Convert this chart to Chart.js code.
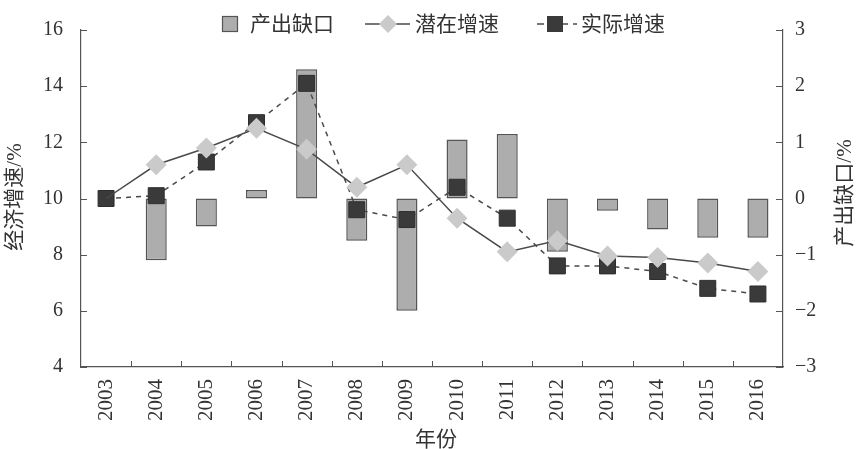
<!DOCTYPE html>
<html><head><meta charset="utf-8">
<script src="https://cdn.jsdelivr.net/npm/chart.js@4/dist/chart.umd.min.js"></script>
<style>html,body{margin:0;padding:0;background:#fff}#wrap{width:856px;height:449px}</style>
</head><body><div id="wrap"><canvas id="c" width="856" height="449"></canvas></div>
<script>
const years = ['2003','2004','2005','2006','2007','2008','2009','2010','2011','2012','2013','2014','2015','2016'];
const outputGap = [null,-1.1,-0.5,0.15,2.3,-0.75,-2.0,1.05,1.15,-0.95,-0.22,-0.55,-0.7,-0.7];
const potentialGrowth = [10.0,11.2,11.8,12.5,11.75,10.4,11.2,9.3,8.1,8.5,7.95,7.9,7.7,7.4];
const actualGrowth = [10.0,10.1,11.3,12.7,14.1,9.6,9.25,10.4,9.3,7.6,7.6,7.4,6.8,6.6];
const leftTicks = [4,6,8,10,12,14,16];
const rightTicks = [-3,-2,-1,0,1,2,3];
const labels = {gap:'产出缺口', potential:'潜在增速', actual:'实际增速', left:'经济增速/%', right:'产出缺口/%', x:'年份'};

const FONT = '"Liberation Serif", "Noto Sans CJK SC", serif';
const TXT = '#333';
const AX = '#555';

const decor = {
  id: 'decor',
  beforeDatasetsDraw(chart) {
    const {ctx, chartArea: a, scales: {x, y, y1}} = chart;
    ctx.save();
    ctx.strokeStyle = AX; ctx.lineWidth = 1;
    ctx.beginPath();
    y.ticks.forEach((t, i) => { const p = Math.round(y.getPixelForTick(i)) + 0.5; ctx.moveTo(a.left, p); ctx.lineTo(a.left + 6, p); });
    y1.ticks.forEach((t, i) => { const p = Math.round(y1.getPixelForTick(i)) + 0.5; ctx.moveTo(a.right, p); ctx.lineTo(a.right - 7, p); });
    for (let i = 1; i < years.length; i++) {
      const p = Math.round((x.getPixelForValue(i - 1) + x.getPixelForValue(i)) / 2) + 0.5;
      ctx.moveTo(p, a.bottom); ctx.lineTo(p, a.bottom - 6);
    }
    ctx.stroke();
    ctx.restore();
  },
  afterDraw(chart) {
    const {ctx} = chart;
    ctx.save();
    ctx.fillStyle = TXT;
    ctx.font = '21px ' + FONT;
    ctx.textAlign = 'center'; ctx.textBaseline = 'middle';
    // axis titles
    ctx.save(); ctx.translate(15, 197); ctx.rotate(-Math.PI / 2); ctx.fillText(labels.left, 0, 0); ctx.restore();
    ctx.save(); ctx.translate(845, 193); ctx.rotate(-Math.PI / 2); ctx.fillText(labels.right, 0, 0); ctx.restore();
    ctx.fillText(labels.x, 436, 440);
    // legend
    const cy = 24;
    ctx.textAlign = 'left';
    ctx.fillStyle = '#adadad'; ctx.strokeStyle = '#555'; ctx.lineWidth = 1.2;
    ctx.fillRect(222, cy - 8, 16, 16); ctx.strokeRect(222.5, cy - 7.5, 15, 15);
    ctx.fillStyle = TXT; ctx.fillText(labels.gap, 250, cy + 1);
    ctx.strokeStyle = '#4a4a4a'; ctx.lineWidth = 1.5;
    ctx.beginPath(); ctx.moveTo(365, cy); ctx.lineTo(410, cy); ctx.stroke();
    ctx.fillStyle = '#cacaca';
    ctx.beginPath(); ctx.moveTo(388, cy - 9); ctx.lineTo(397, cy); ctx.lineTo(388, cy + 9); ctx.lineTo(379, cy); ctx.closePath(); ctx.fill();
    ctx.fillStyle = TXT; ctx.fillText(labels.potential, 415, cy + 1);
    ctx.setLineDash([7, 5]);
    ctx.beginPath(); ctx.moveTo(537, cy); ctx.lineTo(577, cy); ctx.stroke();
    ctx.setLineDash([]);
    ctx.fillStyle = '#3a3a3a';
    ctx.fillRect(547, cy - 8, 16, 16);
    ctx.fillStyle = TXT; ctx.fillText(labels.actual, 581, cy + 1);
    ctx.restore();
  }
};

new Chart(document.getElementById('c'), {
  data: {
    labels: years,
    datasets: [
      {
        type: 'line', label: labels.potential, data: potentialGrowth, yAxisID: 'y', order: 0,
        borderColor: '#4a4a4a', borderWidth: 1.5, tension: 0,
        pointStyle: 'rectRot', pointRadius: potentialGrowth.map((v, i) => i === 0 ? 0 : 10.5),
        pointBackgroundColor: '#cacaca', pointBorderColor: '#cacaca', pointBorderWidth: 0
      },
      {
        type: 'line', label: labels.actual, data: actualGrowth, yAxisID: 'y', order: 1,
        borderColor: '#4a4a4a', borderWidth: 1.5, borderDash: [5, 5], tension: 0,
        pointStyle: 'rect', pointRadius: 11.3,
        pointBackgroundColor: '#3a3a3a', pointBorderColor: '#2e2e2e', pointBorderWidth: 1
      },
      {
        type: 'bar', label: labels.gap, data: outputGap, yAxisID: 'y1', order: 2,
        backgroundColor: '#adadad', borderColor: '#555', borderWidth: 1.5, borderSkipped: false,
        barPercentage: 0.42, categoryPercentage: 1
      }
    ]
  },
  options: {
    responsive: false, animation: false, devicePixelRatio: 1,
    layout: {padding: {top: 20, left: 0, right: 0, bottom: 0}},
    plugins: {legend: {display: false}, tooltip: {enabled: false}},
    scales: {
      x: {
        type: 'category', offset: true,
        grid: {display: false, drawTicks: false},
        border: {display: true, color: AX, width: 1.2},
        ticks: {maxRotation: 90, minRotation: 90, padding: 12, color: TXT, font: {family: FONT, size: 21}},
        afterFit: s => { s.height = 82; }
      },
      y: {
        position: 'left', min: 4, max: 16,
        grid: {display: false, drawTicks: false},
        border: {display: true, color: AX, width: 1.2},
        ticks: {padding: 18, color: TXT, font: {family: FONT, size: 20}},
        afterBuildTicks: s => { s.ticks = leftTicks.map(v => ({value: v})); },
        afterFit: s => { s.width = 81; }
      },
      y1: {
        position: 'right', min: -3, max: 3,
        grid: {display: false, drawTicks: false},
        border: {display: true, color: AX, width: 1.2},
        ticks: {padding: 12, color: TXT, font: {family: FONT, size: 20}, callback: v => String(v).replace('-', '\u2212')},
        afterBuildTicks: s => { s.ticks = rightTicks.map(v => ({value: v})); },
        afterFit: s => { s.width = 73; }
      }
    }
  },
  plugins: [decor]
});
</script>
</body></html>
